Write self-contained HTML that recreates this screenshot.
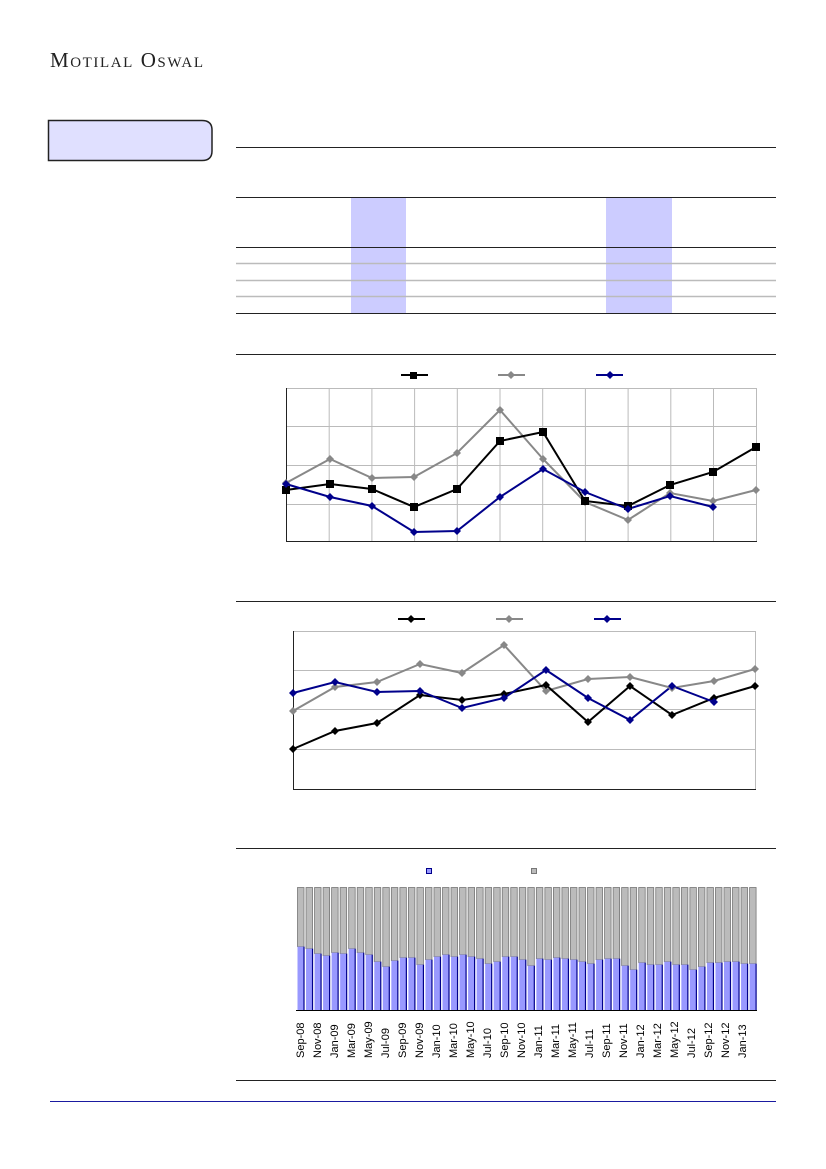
<!DOCTYPE html>
<html><head><meta charset="utf-8"><style>
body{margin:0;background:#fff;width:826px;height:1169px;overflow:hidden}
svg{display:block}
</style></head><body>
<svg id="s" width="826" height="1169" xmlns="http://www.w3.org/2000/svg" font-family="Liberation Sans, sans-serif">
<text x="50" y="67" font-family="Liberation Serif, serif" font-size="21" fill="#222" textLength="153" lengthAdjust="spacing">M<tspan font-size="15">OTILAL</tspan> O<tspan font-size="15">SWAL</tspan></text>
<path d="M48.5 120.5 H202 Q212 120.5 212 130 V151 Q212 160.5 202 160.5 H48.5 Z" fill="#e0e0ff" stroke="#222" stroke-width="1.5"/>
<rect x="351" y="197" width="55" height="116" fill="#ccccff"/>
<rect x="606" y="197" width="66" height="116" fill="#ccccff"/>
<line x1="236" y1="147.5" x2="776" y2="147.5" stroke="#222"/>
<line x1="236" y1="197.5" x2="776" y2="197.5" stroke="#222"/>
<line x1="236" y1="247.5" x2="776" y2="247.5" stroke="#222"/>
<line x1="236" y1="263.5" x2="776" y2="263.5" stroke="#bbb" stroke-width="1.5"/>
<line x1="236" y1="280.5" x2="776" y2="280.5" stroke="#bbb" stroke-width="1.5"/>
<line x1="236" y1="296.5" x2="776" y2="296.5" stroke="#bbb" stroke-width="1.5"/>
<line x1="236" y1="313.5" x2="776" y2="313.5" stroke="#222"/>
<line x1="236" y1="354.5" x2="776" y2="354.5" stroke="#222"/>
<g id="g1" stroke="#bbb" stroke-width="1"></g>
<rect x="286.5" y="388.5" width="470" height="153" fill="none" stroke="#bbb"/>
<line x1="286.5" y1="388" x2="286.5" y2="542" stroke="#222"/>
<line x1="286" y1="541.5" x2="757" y2="541.5" stroke="#222"/>
<polyline fill="none" stroke="#888" stroke-width="2" points="286,483 330,459 372,478 414,477 457,453 500,410 543,459 585,502 628,520 670,493 713,501 756,490"/>
<polyline fill="none" stroke="#000" stroke-width="2" points="286,490 330,484 372,489 414,507 457,489 500,441 543,432 585,501 628,506 670,485 713,472 756,447"/>
<polyline fill="none" stroke="#00008b" stroke-width="2" points="286,484 330,497 372,506 414,532 457,531 500,497 543,469 585,492 628,509 670,496 713,507"/>
<g id="m1"></g>
<line x1="401" y1="375" x2="428" y2="375" stroke="#000" stroke-width="2"/><rect x="410" y="372" width="7" height="7"/>
<line x1="498" y1="375" x2="525" y2="375" stroke="#888" stroke-width="2"/><path d="M511 371l4 4-4 4-4-4z" fill="#888"/>
<line x1="596" y1="375" x2="623" y2="375" stroke="#00008b" stroke-width="2"/><path d="M610 371l4 4-4 4-4-4z" fill="#00008b"/>
<line x1="236" y1="601.5" x2="776" y2="601.5" stroke="#222"/>
<rect x="293.5" y="631.5" width="462" height="158" fill="none" stroke="#bbb"/>
<line x1="293" y1="670.5" x2="756" y2="670.5" stroke="#bbb"/>
<line x1="293" y1="709.5" x2="756" y2="709.5" stroke="#bbb"/>
<line x1="293" y1="749.5" x2="756" y2="749.5" stroke="#bbb"/>
<line x1="293.5" y1="631" x2="293.5" y2="790" stroke="#222"/>
<line x1="293" y1="789.5" x2="756" y2="789.5" stroke="#222"/>
<polyline fill="none" stroke="#888" stroke-width="2" points="293,711 335,687 377,682 420,664 462,673 504,645 546,691 588,679 630,677 672,688 714,681 755,669"/>
<polyline fill="none" stroke="#000" stroke-width="2" points="293,749 335,731 377,723 420,695 462,700 504,694 546,685 588,722 630,686 672,715 714,698 755,686"/>
<polyline fill="none" stroke="#00008b" stroke-width="2" points="293,693 335,682 377,692 420,691 462,708 504,698 546,670 588,698 630,720 672,686 714,702"/>
<g id="m2"></g>
<line x1="398" y1="619" x2="425" y2="619" stroke="#000" stroke-width="2"/><path d="M411 615l4 4-4 4-4-4z"/>
<line x1="496" y1="619" x2="523" y2="619" stroke="#888" stroke-width="2"/><path d="M509 615l4 4-4 4-4-4z" fill="#888"/>
<line x1="594" y1="619" x2="621" y2="619" stroke="#00008b" stroke-width="2"/><path d="M607 615l4 4-4 4-4-4z" fill="#00008b"/>
<line x1="236" y1="848.5" x2="776" y2="848.5" stroke="#222"/>
<rect x="426.5" y="868.5" width="5" height="5" fill="#9999ff" stroke="#00008b"/>
<rect x="531.5" y="868.5" width="5" height="5" fill="#bbb" stroke="#777"/>
<g id="bars"></g>
<line x1="296" y1="1010.5" x2="757" y2="1010.5" stroke="#000"/>
<g font-size="11" fill="#000" id="lbl">
<text transform="translate(304,1058) rotate(-90)">Sep-08</text>
<text transform="translate(321,1058) rotate(-90)">Nov-08</text>
<text transform="translate(338,1058) rotate(-90)">Jan-09</text>
<text transform="translate(355,1058) rotate(-90)">Mar-09</text>
<text transform="translate(372,1058) rotate(-90)">May-09</text>
<text transform="translate(389,1058) rotate(-90)">Jul-09</text>
<text transform="translate(406,1058) rotate(-90)">Sep-09</text>
<text transform="translate(423,1058) rotate(-90)">Nov-09</text>
<text transform="translate(440,1058) rotate(-90)">Jan-10</text>
<text transform="translate(457,1058) rotate(-90)">Mar-10</text>
<text transform="translate(474,1058) rotate(-90)">May-10</text>
<text transform="translate(491,1058) rotate(-90)">Jul-10</text>
<text transform="translate(508,1058) rotate(-90)">Sep-10</text>
<text transform="translate(525,1058) rotate(-90)">Nov-10</text>
<text transform="translate(542,1058) rotate(-90)">Jan-11</text>
<text transform="translate(559,1058) rotate(-90)">Mar-11</text>
<text transform="translate(576,1058) rotate(-90)">May-11</text>
<text transform="translate(593,1058) rotate(-90)">Jul-11</text>
<text transform="translate(610,1058) rotate(-90)">Sep-11</text>
<text transform="translate(627,1058) rotate(-90)">Nov-11</text>
<text transform="translate(644,1058) rotate(-90)">Jan-12</text>
<text transform="translate(661,1058) rotate(-90)">Mar-12</text>
<text transform="translate(678,1058) rotate(-90)">May-12</text>
<text transform="translate(695,1058) rotate(-90)">Jul-12</text>
<text transform="translate(712,1058) rotate(-90)">Sep-12</text>
<text transform="translate(729,1058) rotate(-90)">Nov-12</text>
<text transform="translate(746,1058) rotate(-90)">Jan-13</text>
</g>
<line x1="236" y1="1080.5" x2="776" y2="1080.5" stroke="#222"/>
<line x1="50" y1="1101.5" x2="776" y2="1101.5" stroke="#1a1aa0"/>
</svg>
<script>
var NS="http://www.w3.org/2000/svg";
function el(p,t,a){var e=document.createElementNS(NS,t);for(var k in a)e.setAttribute(k,a[k]);document.getElementById(p).appendChild(e);}
for(var i=1;i<11;i++){var x=286.5+i*42.7;el("g1","line",{x1:x,y1:388,x2:x,y2:541});}
[426.5,465.5,504.5].forEach(function(y){el("g1","line",{x1:286,y1:y,x2:756,y2:y});});
function marks(g,pts,col,sq){pts.forEach(function(p){if(sq)el(g,"rect",{x:p[0]-4,y:p[1]-4,width:8,height:8,fill:col});else el(g,"path",{d:"M"+p[0]+" "+(p[1]-4)+"l4 4-4 4-4-4z",fill:col});});}
function P(s){return s.split(" ").map(function(q){return q.split(",").map(Number);});}
marks("m1",P("286,483 330,459 372,478 414,477 457,453 500,410 543,459 585,502 628,520 670,493 713,501 756,490"),"#888");
marks("m1",P("286,490 330,484 372,489 414,507 457,489 500,441 543,432 585,501 628,506 670,485 713,472 756,447"),"#000",1);
marks("m1",P("286,484 330,497 372,506 414,532 457,531 500,497 543,469 585,492 628,509 670,496 713,507"),"#00008b");
marks("m2",P("293,711 335,687 377,682 420,664 462,673 504,645 546,691 588,679 630,677 672,688 714,681 755,669"),"#888");
marks("m2",P("293,749 335,731 377,723 420,695 462,700 504,694 546,685 588,722 630,686 672,715 714,698 755,686"),"#000");
marks("m2",P("293,693 335,682 377,692 420,691 462,708 504,698 546,670 588,698 630,720 672,686 714,702"),"#00008b");
var z=[260,266,281,287,278,281,266,278,284,305,320,302,293,293,314,299,290,284,290,284,290,296,311,305,290,290,299,317,296,299,293,296,299,305,311,299,296,296,317,329,308,314,314,305,314,314,329,320,308,308,305,305,311,311];
z.forEach(function(v,i){var x=297.5+i*8.53,t=860+v/3;
el("bars","rect",{x:x,y:887.5,width:6.5,height:t-887.5,fill:"#bbb",stroke:"#777","stroke-width":0.8});
el("bars","rect",{x:x,y:t,width:6.5,height:1010-t,fill:"#9999ff"});
el("bars","line",{x1:x+6.5,y1:t,x2:x+6.5,y2:1010,stroke:"#00008b","stroke-width":1.2});});
</script>
</body></html>
